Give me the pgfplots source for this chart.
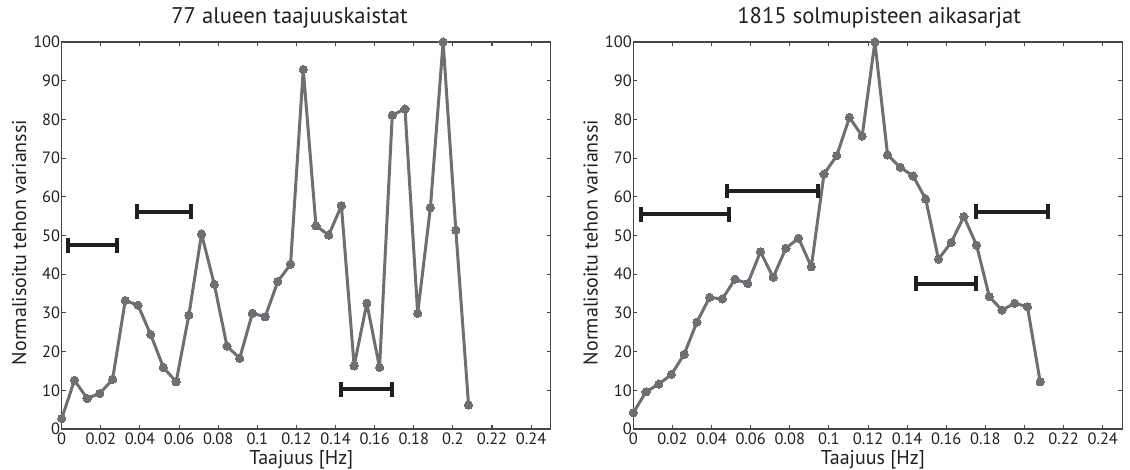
\documentclass[border=0pt]{standalone}
\usepackage{fontspec}
\setmainfont{PT Sans}
\usepackage{pgfplots}
\usepackage{pgfplotstable}
\pgfplotsset{compat=1.18}
\definecolor{lgray}{RGB}{110,111,114}
\definecolor{dk}{RGB}{35,31,32}
\definecolor{axc}{RGB}{70,70,72}

\pgfplotstableread{
x y
0 2.7
0.0065 12.6
0.013 7.9
0.0195 9.2
0.026 12.8
0.0325 33.2
0.039 32.0
0.0455 24.4
0.052 15.9
0.0585 12.2
0.065 29.4
0.0715 50.4
0.078 37.4
0.0845 21.4
0.091 18.3
0.0975 29.9
0.104 29.0
0.1105 38.1
0.117 42.6
0.1235 92.9
0.13 52.5
0.1365 50.1
0.143 57.7
0.1495 16.3
0.156 32.5
0.1625 15.9
0.169 81.1
0.1755 82.7
0.182 29.9
0.1885 57.2
0.195 100
0.2015 51.4
0.208 6.2
}\leftdata

\pgfplotstableread{
x y
0 4.2
0.0065 9.6
0.013 11.6
0.0195 14.1
0.026 19.3
0.0325 27.6
0.039 34.0
0.0455 33.6
0.052 38.7
0.0585 37.6
0.065 45.8
0.0715 39.2
0.078 46.7
0.0845 49.3
0.091 41.9
0.0975 65.9
0.104 70.6
0.1105 80.5
0.117 75.7
0.1235 100
0.13 70.8
0.1365 67.6
0.143 65.4
0.1495 59.4
0.156 43.9
0.1625 48.2
0.169 54.9
0.1755 47.5
0.182 34.2
0.1885 30.7
0.195 32.5
0.2015 31.6
0.208 12.2
}\rightdata

\pgfplotsset{
 mystyle/.style={
  scale only axis, width=366.75pt, height=290.25pt,
  xmin=0, xmax=0.25, ymin=0, ymax=100,
  xtick={0,0.02,0.04,0.06,0.08,0.1,0.12,0.14,0.16,0.18,0.2,0.22,0.24},
  xticklabels={0,0.02,0.04,0.06,0.08,0.1,0.12,0.14,0.16,0.18,0.2,0.22,0.24},
  ytick={0,10,20,30,40,50,60,70,80,90,100},
  yticklabels={0,10,20,30,40,50,60,70,80,90,100},
  tick align=inside, tick pos=both,
  major tick length=3pt,
  axis line style={draw=axc, line width=1pt},
  every tick/.style={axc, line width=0.8pt},
  tick label style={font=\fontsize{12.3}{13}\selectfont, text=dk},
  /pgf/number format/assume math mode=true,
  yticklabel style={inner sep=1pt},
  xticklabel style={inner sep=1pt, yshift=-2pt},
  label style={font=\fontsize{15}{16}\selectfont, text=dk},
  xlabel={Taajuus [Hz]},
  ylabel={Normalisoitu tehon varianssi},
  xlabel style={at={(axis description cs:0.49,0)}, anchor=base, yshift=-27pt},
  ylabel style={at={(axis description cs:-0.0873,0.482)}, anchor=center},
  title style={font=\fontsize{17}{19}\selectfont, text=dk, anchor=base, yshift=7.7pt},
  clip=false,
 },
 dataline/.style={lgray, line width=2.25pt, mark=*, mark size=3.1pt, mark options={fill=lgray, draw=lgray, line width=0pt}, line join=round},
 band/.style={dk, line width=3pt, mark=|, mark size=5.6pt, mark options={line width=3pt, dk}},
}

\begin{document}
\begin{tikzpicture}
\useasboundingbox (-46.275pt,-30.75pt) rectangle (801.225pt,321.75pt);
\begin{axis}[mystyle, title={77 alueen taajuuskaistat}, title style={at={(axis description cs:0.466,1)}}]
\addplot[dataline] table[x=x,y=y] {\leftdata};
\addplot[band] coordinates {(0.0032,47.5) (0.0281,47.5)};
\addplot[band] coordinates {(0.0387,56.2) (0.0659,56.2)};
\addplot[band] coordinates {(0.1428,10.3) (0.1689,10.3)};
\end{axis}
\begin{axis}[mystyle, at={(428.7pt,0pt)}, title={1815 solmupisteen aikasarjat}, title style={at={(axis description cs:0.503,1)}}]
\addplot[dataline] table[x=x,y=y] {\rightdata};
\addplot[band] coordinates {(0.0038,55.5) (0.0491,55.5)};
\addplot[band] coordinates {(0.0477,61.5) (0.0944,61.5)};
\addplot[band] coordinates {(0.1444,37.5) (0.1752,37.5)};
\addplot[band] coordinates {(0.1752,56.2) (0.2120,56.2)};
\end{axis}
\end{tikzpicture}
\end{document}
